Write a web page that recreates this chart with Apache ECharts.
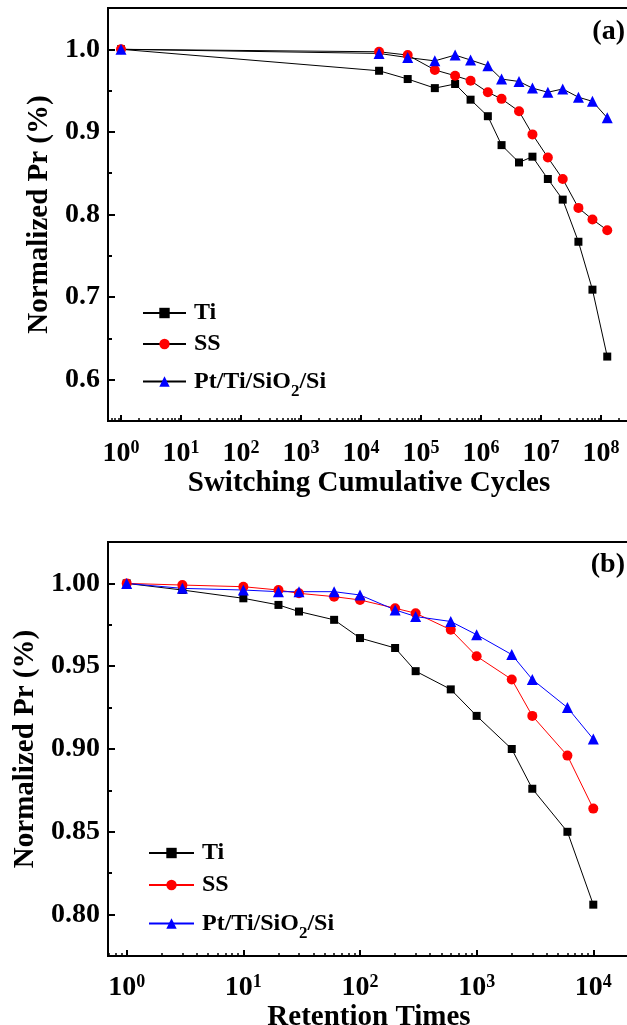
<!DOCTYPE html>
<html>
<head>
<meta charset="utf-8">
<script src="https://cdn.jsdelivr.net/npm/echarts@6/dist/echarts.min.js"></script>
<style>
  html, body { margin: 0; padding: 0; background: #fff; }
  #main { width: 627px; height: 1025px; }
</style>
</head>
<body>
<div id="main"></div>
<script>
// (a) switching cycles
var cyclesA = [1, 2e4, 6e4, 1.7e5, 3.7e5, 6.7e5, 1.3e6, 2.2e6, 4.3e6, 7.2e6, 1.3e7, 2.3e7, 4.2e7, 7.2e7, 1.27e8];
var tiA = [1.0, 0.974, 0.964, 0.953, 0.958, 0.939, 0.919, 0.884, 0.863, 0.870, 0.843, 0.818, 0.767, 0.709, 0.628];
var ssA = [1.0, 0.997, 0.993, 0.975, 0.968, 0.962, 0.948, 0.940, 0.925, 0.897, 0.869, 0.843, 0.808, 0.794, 0.781];
var ptA = [1.0, 0.995, 0.990, 0.986, 0.993, 0.987, 0.980, 0.964, 0.961, 0.953, 0.948, 0.952, 0.942, 0.937, 0.917];

// (b) retention
var timesB = [1, 3, 10, 20, 30, 60, 100, 200, 300, 600, 1000, 2000, 3000, 6000, 10000];
var tiB = [1.0, 0.996, 0.991, 0.987, 0.983, 0.978, 0.967, 0.961, 0.947, 0.936, 0.920, 0.900, 0.876, 0.850, 0.806];
var ssB = [1.0, 0.999, 0.998, 0.996, 0.994, 0.992, 0.990, 0.985, 0.982, 0.972, 0.956, 0.942, 0.920, 0.896, 0.864];
var ptB = [1.0, 0.997, 0.996, 0.995, 0.995, 0.995, 0.993, 0.984, 0.980, 0.977, 0.969, 0.957, 0.942, 0.925, 0.906];

// tick labels
var decadesA = [1, 10, 100, 1e3, 1e4, 1e5, 1e6, 1e7, 1e8];
var decadesB = [1, 10, 100, 1e3, 1e4];
var yTicksA = [0.6, 0.7, 0.8, 0.9, 1.0];
var yMinorA = [0.65, 0.75, 0.85, 0.95];
var yTicksB = [0.80, 0.85, 0.90, 0.95, 1.00];
var yMinorB = [0.825, 0.875, 0.925, 0.975];

var names = ['Ti', 'SS', 'Pt/Ti/SiO2/Si'];

var FONT = 'Liberation Serif';
var xMinA = Math.pow(10, -0.2167), xMaxA = Math.pow(10, 8.483);
var xMinB = Math.pow(10, -0.1603), xMaxB = Math.pow(10, 4.3147);

function minorTicks(lo, hi) {
  var out = [];
  for (var k = -1; k <= 9; k++) {
    for (var m = 2; m <= 9; m++) {
      var v = m * Math.pow(10, k);
      if (v > lo && v < hi) out.push(v);
    }
  }
  return out;
}

function zip(xs, ys) {
  return xs.map(function (x, i) { return [x, ys[i]]; });
}

var expRich = {
  m: { fontSize: 28, fontWeight: 'bold', fontFamily: FONT, color: '#000', lineHeight: 30 },
  s: { fontSize: 18, fontWeight: 'bold', fontFamily: FONT, color: '#000', lineHeight: 18, verticalAlign: 'top' }
};
function expLabel(v) {
  return '{m|10}{s|' + Math.round(Math.log10(v)) + '}';
}

var titleStyle = { fontSize: 29, fontWeight: 'bold', fontFamily: FONT, color: '#000' };
var blackLine = { color: '#000', width: 2 };

function xMajor(grid, min, max, ticks, name, gap, margin) {
  return {
    type: 'log', logBase: 10, gridIndex: grid, min: min, max: max, position: 'bottom',
    axisLine: { onZero: false, lineStyle: blackLine },
    axisTick: { inside: true, length: 6, lineStyle: blackLine, customValues: ticks },
    axisLabel: { customValues: ticks, margin: margin, formatter: expLabel, rich: expRich },
    splitLine: { show: false },
    name: name, nameLocation: 'middle', nameGap: gap, nameTextStyle: titleStyle
  };
}
function xMinor(grid, min, max) {
  return {
    type: 'log', logBase: 10, gridIndex: grid, min: min, max: max, position: 'bottom',
    axisLine: { show: false, onZero: false },
    axisTick: { inside: true, length: 3, lineStyle: { color: '#000', width: 1.5 }, customValues: minorTicks(min, max) },
    axisLabel: { show: false },
    splitLine: { show: false }
  };
}
function yMajor(grid, min, max, ticks, digits, gap) {
  return {
    type: 'value', gridIndex: grid, min: min, max: max, position: 'left',
    axisLine: { show: true, onZero: false, lineStyle: blackLine },
    axisTick: { show: true, inside: true, length: 7, lineStyle: blackLine, customValues: ticks },
    axisLabel: {
      customValues: ticks, margin: 8,
      formatter: function (v) { return v.toFixed(digits); },
      fontSize: 28, fontWeight: 'bold', fontFamily: FONT, color: '#000'
    },
    splitLine: { show: false },
    name: 'Normalized Pr (%)', nameLocation: 'middle', nameRotate: 90, nameGap: gap,
    nameTextStyle: titleStyle
  };
}
function yMinor(grid, min, max, ticks) {
  return {
    type: 'value', gridIndex: grid, min: min, max: max, position: 'left',
    axisLine: { show: false, onZero: false },
    axisTick: { show: true, inside: true, length: 4, lineStyle: { color: '#000', width: 2 }, customValues: ticks },
    axisLabel: { show: false },
    splitLine: { show: false }
  };
}

function legendText(name) {
  var base = name.replace(' (b)', '');
  if (base.indexOf('Pt') === 0) return '{p|Pt/Ti/SiO}{sub|2}{q|/Si}';
  return '{n|' + base + '}';
}
var legendRich = {
  n: { fontSize: 24, fontWeight: 'bold', fontFamily: FONT, color: '#000', lineHeight: 26, padding: [0, 0, 0, 3] },
  p: { fontSize: 24, fontWeight: 'bold', fontFamily: FONT, color: '#000', lineHeight: 42, padding: [0, 0, 0, 3] },
  q: { fontSize: 24, fontWeight: 'bold', fontFamily: FONT, color: '#000', lineHeight: 42 },
  sub: { fontSize: 17, fontWeight: 'bold', fontFamily: FONT, color: '#000', lineHeight: 17, padding: [20, 0, 0, 0] }
};

function series(name, xi, data, symbol, size, color, lineColor) {
  return {
    name: name, type: 'line', xAxisIndex: xi, yAxisIndex: xi, data: data,
    symbol: symbol, symbolSize: size,
    itemStyle: { color: color },
    lineStyle: { color: lineColor, width: 1 },
    emphasis: { disabled: true }
  };
}

var chart = echarts.init(document.getElementById('main'));
chart.setOption({
  animation: false,
  backgroundColor: '#fff',
  textStyle: { fontFamily: FONT },
  title: [
    { text: '(a)', right: 2, top: 18, padding: 0, textStyle: { fontSize: 28, fontWeight: 'bold', fontFamily: FONT, color: '#000' } },
    { text: '(b)', right: 2, top: 551, padding: 0, textStyle: { fontSize: 28, fontWeight: 'bold', fontFamily: FONT, color: '#000' } }
  ],
  grid: [
    { left: 108, top: 8, right: -3, bottom: 604, outerBoundsMode: 'none', containLabel: false, show: true, borderColor: '#000', borderWidth: 2 },
    { left: 108, top: 542, right: -3, bottom: 69, outerBoundsMode: 'none', containLabel: false, show: true, borderColor: '#000', borderWidth: 2 }
  ],
  legend: [
    {
      data: names, orient: 'vertical', left: 142, top: 301, padding: 0,
      itemWidth: 43, itemHeight: 13, itemGap: 7,
      formatter: legendText, textStyle: { fontFamily: FONT, rich: legendRich }
    },
    {
      data: names.map(function (n) { return n + ' (b)'; }), orient: 'vertical', left: 148, top: 841, padding: 0,
      itemWidth: 45, itemHeight: 13, itemGap: 8,
      formatter: legendText, textStyle: { fontFamily: FONT, rich: legendRich }
    }
  ],
  xAxis: [
    xMajor(0, xMinA, xMaxA, decadesA, 'Switching Cumulative Cycles', 29, 18),
    xMinor(0, xMinA, xMaxA),
    xMajor(1, xMinB, xMaxB, decadesB, 'Retention Times', 32, 17),
    xMinor(1, xMinB, xMaxB)
  ],
  yAxis: [
    yMajor(0, 0.55, 1.05, yTicksA, 1, 35),
    yMinor(0, 0.55, 1.05, yMinorA),
    yMajor(1, 0.775, 1.025, yTicksB, 2, 61),
    yMinor(1, 0.775, 1.025, yMinorB)
  ],
  series: [
    series(names[0], 0, zip(cyclesA, tiA), 'rect', 8, '#000', '#000'),
    series(names[1], 0, zip(cyclesA, ssA), 'circle', 10, '#ff0000', '#000'),
    series(names[2], 0, zip(cyclesA, ptA), 'triangle', 11, '#0000ff', '#000'),
    series(names[0] + ' (b)', 2, zip(timesB, tiB), 'rect', 8, '#000', '#000'),
    series(names[1] + ' (b)', 2, zip(timesB, ssB), 'circle', 10, '#ff0000', '#ff0000'),
    series(names[2] + ' (b)', 2, zip(timesB, ptB), 'triangle', 11, '#0000ff', '#0000ff')
  ]
});
</script>
</body>
</html>
